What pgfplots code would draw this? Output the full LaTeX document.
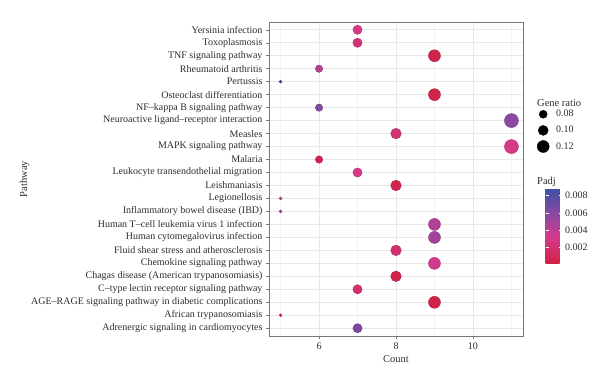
\documentclass[border=0pt]{standalone}
\usepackage{pgfplots}
\usepackage{pgfplotstable}
\usepackage{fontspec}
\setmainfont{Liberation Serif}
\pgfplotsset{compat=1.18}
\definecolor{gridmaj}{RGB}{232,232,232}
\definecolor{gridmin}{RGB}{244,244,244}
\definecolor{frame}{RGB}{120,120,120}
\definecolor{txt}{RGB}{45,45,45}
\pgfplotsset{colormap={padj}{rgb255(0cm)=(208,32,64) rgb255(35cm)=(213,58,138) rgb255(65cm)=(140,72,160) rgb255(100cm)=(60,82,165)}}
\pgfplotstableread{
idx count padj r
1 7 0.0065 4.6
2 5 0.0010 1.5
3 9 0.0004 6
4 7 0.0020 4.6
5 8 0.0006 5.3
6 9 0.0032 6
7 8 0.0020 5.3
8 9 0.0050 6
9 9 0.0045 6
10 5 0.0050 1.5
11 5 0.0032 1.5
12 8 0.0006 5.3
13 7 0.0030 4.6
14 6 0.0004 3.7
15 11 0.0030 7
16 8 0.0022 5.3
17 11 0.0058 7
18 6 0.0060 3.7
19 9 0.0005 6
20 5 0.0088 1.5
21 6 0.0042 3.7
22 9 0.0005 6
23 7 0.0022 4.6
24 7 0.0030 4.6
}\data
\begin{document}
\begin{tikzpicture}
\useasboundingbox (0,0) rectangle (600bp,386bp);
\begin{axis}[
  at={(269bp,50bp)}, anchor=south west,
  scale only axis, width=254bp, height=314bp,
  xmin=4.7, xmax=11.3, ymin=0.4, ymax=24.6,
  enlargelimits=false,
  xtick={6,8,10}, minor xtick={5,7,9,11},
  ytick={1,...,24},
  yticklabels={Adrenergic signaling in cardiomyocytes,African trypanosomiasis,AGE--RAGE signaling pathway in diabetic complications,C--type lectin receptor signaling pathway,Chagas disease (American trypanosomiasis),Chemokine signaling pathway,Fluid shear stress and atherosclerosis,Human cytomegalovirus infection,Human T--cell leukemia virus 1 infection,Inflammatory bowel disease (IBD),Legionellosis,Leishmaniasis,Leukocyte transendothelial migration,Malaria,MAPK signaling pathway,Measles,Neuroactive ligand--receptor interaction,NF--kappa B signaling pathway,Osteoclast differentiation,Pertussis,Rheumatoid arthritis,TNF signaling pathway,Toxoplasmosis,Yersinia infection},
  /pgf/number format/assume math mode=true,
  tick label style={font=\fontsize{10bp}{12bp}\selectfont, text=txt},
  label style={font=\fontsize{10.5bp}{12bp}\selectfont, text=txt},
  xlabel={Count}, ylabel={Pathway},
  xlabel style={yshift=1bp},
  ylabel style={yshift=-5bp},
  grid=both,
  major grid style={gridmaj, line width=0.6bp},
  minor grid style={gridmin, line width=0.4bp},
  tick align=outside, major tick length=3bp, minor tick length=0bp,
  tick style={frame, line width=0.5bp},
  axis line style={frame, line width=0.6bp},
  xtick pos=bottom, ytick pos=left,
  colormap name=padj,
  point meta min=0.00003, point meta max=0.0089,
  colorbar,
  colorbar style={
    anchor=north west, at={(parent axis.north east)},
    xshift=14bp, yshift=-166bp,
    width=16bp, height=76bp,
    ytick={0.002,0.004,0.006,0.008},
    scaled ticks=false,
    yticklabel style={/pgf/number format/fixed, /pgf/number format/precision=3, /pgf/number format/fixed zerofill, font=\fontsize{10bp}{12bp}\selectfont, text=txt},
    /pgf/number format/assume math mode=true,
    axis line style={draw=none},
    tick align=inside, major tick length=3bp,
    ytick style={white, line width=0.5bp},
    yticklabel pos=right,
  },
  legend style={at={(rel axis cs:1,1)}, anchor=north west, xshift=14bp, yshift=-86bp,
    draw=none, fill=none, font=\fontsize{10bp}{12bp}\selectfont, text=txt,
    row sep=4bp, inner sep=0pt, cells={anchor=west},
    /tikz/every odd column/.append style={column sep=5bp}},
  legend cell align=left,
  clip=false,
]
\addplot[scatter, only marks, mark=*, scatter src=explicit, forget plot,
  visualization depends on={\thisrow{r} \as \rad},
  scatter/@pre marker code/.append style={/tikz/mark size=\rad bp}]
  table[x=count, y=idx, meta=padj] {\data};
\addlegendimage{only marks, mark=*, black, mark size=4bp}
\addlegendentry{0.08}
\addlegendimage{only marks, mark=*, black, mark size=5bp}
\addlegendentry{0.10}
\addlegendimage{only marks, mark=*, black, mark size=6bp}
\addlegendentry{0.12}
\node[anchor=south west, inner sep=0pt, font=\fontsize{10.5bp}{12bp}\selectfont, text=txt] at ([xshift=14bp,yshift=-85bp]rel axis cs:1,1) {Gene ratio};
\node[anchor=south west, inner sep=0pt, font=\fontsize{10.5bp}{12bp}\selectfont, text=txt] at ([xshift=14bp,yshift=-165bp]rel axis cs:1,1) {Padj};
\end{axis}
\end{tikzpicture}
\end{document}
